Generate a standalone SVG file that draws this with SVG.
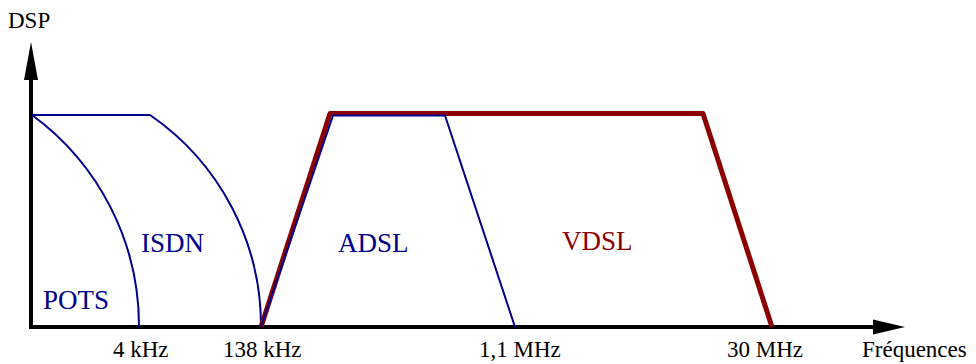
<svg xmlns="http://www.w3.org/2000/svg" width="976" height="364" viewBox="0 0 976 364">
  <style>
    text { font-family: "Liberation Serif", "DejaVu Serif", serif; }
    .axis { fill: none; stroke: #000; stroke-width: 4; }
    .tick { font-size: 23px; fill: #000; }
    .blue { fill: none; stroke: #00008b; stroke-width: 2; stroke-linejoin: round; }
    .red { fill: none; stroke: #8b0000; stroke-width: 5; stroke-linejoin: round; }
    .lblue { font-size: 27px; fill: #00008b; }
    .lred { font-size: 27px; fill: #8b0000; }
  </style>
  <rect width="976" height="364" fill="#fff"/>

  <!-- axes -->
  <g id="axes">
    <path class="axis" d="M31 327 V78 M29 327 H876"/>
    <polygon points="31,42 24,80 38,80" fill="#000"/>
    <polygon points="905,327 873,319.5 873,334.5" fill="#000"/>
    <text x="8" y="28" class="tick">DSP</text>
    <text x="862" y="357" class="tick">Fréquences</text>
  </g>

  <!-- spectral bands -->
  <g id="connectors">
    <path id="pots" class="blue" d="M32 115 A261.5 261.5 0 0 1 139 327"/>
    <path id="isdn" class="blue" d="M32 115 H150 A256 256 0 0 1 261 327"/>
    <path id="vdsl" class="red" d="M261 327 L330 113.5 H703 L772 327"/>
    <path id="adsl" class="blue" d="M261 327 L333 115.5 H445 L515 327"/>
  </g>

  <g id="labels">
    <text x="43" y="309" class="lblue">POTS</text>
    <text x="141" y="252" class="lblue">ISDN</text>
    <text x="338" y="252" class="lblue">ADSL</text>
    <text x="562" y="250" class="lred">VDSL</text>
  </g>

  <g id="ticks">
    <text x="113" y="357" class="tick">4 kHz</text>
    <text x="223" y="357" class="tick">138 kHz</text>
    <text x="479" y="357" class="tick">1,1 MHz</text>
    <text x="727" y="357" class="tick">30 MHz</text>
  </g>
</svg>
